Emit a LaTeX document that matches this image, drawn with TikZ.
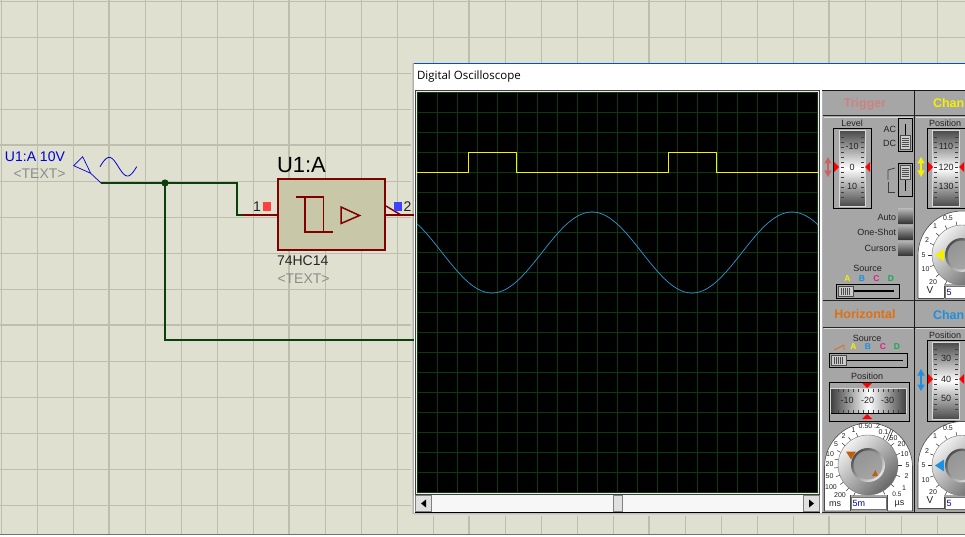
\documentclass[tikz,border=0pt]{standalone}
\usepackage{fontspec}
\setmainfont{Liberation Sans}
\newfontfamily\titlefont{Open Sans}
\definecolor{sheet}{HTML}{DFE0CF}
\definecolor{gridc}{HTML}{BDBEAE}
\definecolor{wirec}{HTML}{0B3F0B}
\definecolor{pinc}{HTML}{800000}
\definecolor{chipc}{HTML}{C8C8A9}
\definecolor{panelc}{HTML}{A6A6A6}
\definecolor{scopegrid}{HTML}{0C3A0C}
\definecolor{traceY}{HTML}{F5F000}
\definecolor{traceB}{HTML}{2A9BD8}
\definecolor{orangec}{HTML}{E07010}
\definecolor{lA}{HTML}{F5F000}
\definecolor{lB}{HTML}{1E90E0}
\definecolor{lC}{HTML}{E0208A}
\definecolor{lD}{HTML}{18A850}
\definecolor{txtc}{HTML}{222222}
\newcounter{lb}
\tikzset{
  lab/.style={inner sep=0pt,outer sep=0pt,text=txtc},
  wirel/.style={draw=wirec,line width=1.6pt},
  pinl/.style={draw=pinc,line width=1.4pt},
  blackbox/.style={draw=black,line width=0.9pt},
  trace/.style={line width=1pt,line join=miter}
}
% \lbl[opts]{x}{y}{size}{text}
\newcommand\lbl[5][]{\stepcounter{lb}\node[lab,#1] (lb\thelb) at (#2,#3) {\fontsize{#4}{#4}\selectfont #5};}
\newcommand\vdrum[6]{% x0,x1 outer; y0,y1; inner x0, inner x1
  \fill[panelc] (#1,#3) rectangle (#2,#4);
  \draw[blackbox] (#1,#3) rectangle (#2,#4);
  \shade[top color=black!70,bottom color=black!70,middle color=white] (#5,#3+2.5) rectangle (#6,#4-2.5);
  \draw[white!85!black,line width=0.7pt] (#5-0.5,#3+2) rectangle (#6+0.5,#4-2);
}
\newcommand\vticks[4]{% x0,x1,ymid,_
  \foreach \d in {-30,-25,...,30}{
    \draw[black!75,line width=0.5pt] (#1+1,#3+\d) -- (#1+4,#3+\d);
    \draw[black!75,line width=0.5pt] (#2-1,#3+\d) -- (#2-4,#3+\d);
  }
}
\newcommand\redtri[3]{\fill[red] (#1,#2-5) -- (#1,#2+5) -- (#1+#3,#2) -- cycle;}
\newcommand\dblarrow[4]{% x,y0,y1,color
  \fill[#4] (#1,#2) -- (#1-3.7,#2+6.5) -- (#1+3.7,#2+6.5) -- cycle;
  \fill[#4] (#1,#3) -- (#1-3.7,#3-6.5) -- (#1+3.7,#3-6.5) -- cycle;
  \draw[#4,line width=1.2pt] (#1,#2+5) -- (#1,#3-5);
}
\newcommand\thumbh[3]{% x0,x1,ymid
  \fill[black!20] (#1,#3-5) rectangle (#2,#3+5);
  \draw[black!70,line width=0.5pt] (#1,#3-5) rectangle (#2,#3+5);
  \foreach \t in {2,4,...,10}{\draw[black!70,line width=0.5pt] (#1+1+\t,#3-3.5) -- (#1+1+\t,#3+3.5);}
}
\newcommand\thumbv[3]{% xmid,y0,y1
  \fill[black!20] (#1-5,#2) rectangle (#1+5,#3);
  \draw[black!70,line width=0.5pt] (#1-5,#2) rectangle (#1+5,#3);
  \foreach \t in {2,4,...,10}{\draw[black!70,line width=0.5pt] (#1-3.5,#2+1.5+\t) -- (#1+3.5,#2+1.5+\t);}
}
\newcommand\hslider[5]{% x0,x1,y0,y1,thumb x0
  \pgfmathsetmacro{\slmid}{(#3+#4)/2}
  \pgfmathsetmacro{\slend}{#5+15}
  \draw[blackbox] (#1,#3) rectangle (#2,#4);
  \draw[black,line width=1.6pt] (#1+3,\slmid) -- (#2-5,\slmid);
  \thumbh{#5}{\slend}{\slmid}
}
\newcommand\mknob[2]{% cx,cy metal body
  \shade[shading=axis,left color=black!5,right color=black!60,shading angle=45] (#1,#2) circle[radius=30];
  \draw[black!55,line width=0.4pt] (#1,#2) circle[radius=30];
  \shade[shading=axis,left color=black!70,right color=black!8,shading angle=45] (#1,#2) circle[radius=17];
  \shade[shading=axis,left color=black!42,middle color=white,right color=black!35,shading angle=30] (#1,#2) circle[radius=14.5];
}
\newcommand\chandial[4]{% cy, arrow colour, top panel y not used, textbox y0
  \fill[white] (918,#1+43) -- plot[domain=180:0,samples=30] ({962+44*cos(\x)},{#1-44*sin(\x)}) -- (966,#1+43) -- cycle;
  \draw[black!70,line width=0.6pt] (918,#1+43) -- plot[domain=180:0,samples=30] ({962+44*cos(\x)},{#1-44*sin(\x)});
  \draw[black!70,line width=0.6pt] (918,#1+43) -- (944,#1+43);
  \fill[panelc] (944,#1+29) rectangle (966,#1+44);
  \draw[black!70,line width=0.6pt] (944,#1+43) -- (944,#1+31);
  \foreach \a in {100,120,...,240}{
    \draw[black!80,line width=0.5pt] ({962+30*cos(\a)},{#1-30*sin(\a)}) -- ({962+34*cos(\a)},{#1-34*sin(\a)});
  }
  \mknob{962}{#1}
  \fill[#2] (935,#1) -- (944,#1-6) -- (944,#1+6) -- cycle;
  \lbl{948}{#1-37}{7}{0.5}
  \lbl{935}{#1-29}{7}{1}
  \lbl{927}{#1-14.5}{7}{2}
  \lbl{923.5}{#1}{7}{5}
  \lbl{925.5}{#1+14.5}{7}{10}
  \lbl{933}{#1+27}{7}{20}
  \lbl{930}{#1+35}{10}{V}
  \fill[white] (945.5,#4) rectangle (966,#4+12);
  \draw[black!55,line width=0.5pt] (945.5,#4) rectangle (966,#4+12);
  \lbl[text=blue!70!black]{949}{#4+6}{9}{5}
}
\begin{document}
\begin{tikzpicture}[x=1pt,y=-1pt]
\useasboundingbox (0,0) rectangle (965,537);
\clip (0,0) rectangle (965,537);
% sheet
\fill[sheet] (0,0) rectangle (965,537);
\foreach \k in {0,...,26}{
  \pgfmathsetmacro{\px}{36*\k+1}
  \draw[gridc,line width=0.9pt] (\px,0) -- (\px,534);
}
\foreach \k in {0,...,14}{
  \pgfmathsetmacro{\py}{36*\k+1}
  \draw[gridc,line width=0.9pt] (0,\py) -- (965,\py);
}
\foreach \k in {108,288,468,648,828}{\draw[gridc,line width=1.8pt] (\k+0.5,0) -- (\k+0.5,534);}
\foreach \k in {145,325}{\draw[gridc,line width=1.6pt] (0,\k) -- (965,\k);}
\fill[white] (0,534) rectangle (965,537);
\draw[black!55,line width=0.8pt] (0,534) -- (965,534);
% window shadow
\shade[left color=sheet,right color=black!40] (411,64) rectangle (414,513);
\shade[top color=black!25,bottom color=sheet] (414,513) rectangle (965,515);
% circuit
\coordinate (gen) at (101,183);
\coordinate (junc) at (165,183);
\coordinate (bend1) at (237,183);
\coordinate (bend2) at (237,215);
\coordinate (pinstart) at (243,215);
\coordinate (scopein) at (415,340);
\coordinate (corner) at (165,340);
\coordinate (out) at (415,215);
\node[draw=pinc,line width=1.6pt,fill=chipc,minimum width=107pt,minimum height=71pt,inner sep=0pt,outer sep=0pt] (chip) at (331.7,214.5) {};
\draw[pinl] (pinstart) -- (chip.west |- pinstart);
\draw[pinl] (chip.east |- out) -- (out);
\draw[pinl] (386,206) -- (401,215);
\draw[wirel] (gen) -- (bend1) -- (bend2) -- (pinstart);
\draw[wirel] (junc) -- (corner) -- (scopein);
\fill[wirec] (junc) circle[radius=3.6];
\fill[red!75!white] (263,202) rectangle (271,211);
\fill[blue!75!white] (394,202) rectangle (402,211);
\lbl{257}{207}{14}{1}
\lbl{407.5}{207}{14}{2}
\lbl[anchor=west,text=black]{277}{165.5}{22}{U1:A}
\lbl[anchor=west,text=black!85]{277}{261}{14}{74HC14}
\lbl[anchor=west,text=black!45]{277.5}{278.5}{14}{<TEXT>}
\lbl[anchor=west,text=blue!85!black]{5}{157}{14}{U1:A 10V}
\lbl[anchor=west,text=black!45]{13.5}{173.5}{14}{<TEXT>}
\draw[blue!85!black,line width=0.7pt] (101,183) -- (90.7,173.3) -- (73.7,165.7) -- (82.7,156.7) -- (90.7,173.3);
\draw[blue!85!black,line width=0.8pt] plot[domain=0:1,samples=40] ({100+36.7*\x},{166.7-9.3*sin(360*\x)});
\draw[pinc,line width=1.5pt] (296,197) -- (323.5,197) -- (323.5,232) -- (333,232);
\draw[pinc,line width=1.5pt] (305,197) -- (305,232) -- (323.5,232);
\draw[pinc,line width=1.5pt] (341,207) -- (359.5,215.5) -- (341,223.5) -- cycle;
% window
\fill[white] (414,63) rectangle (965,513);
\draw[blue!60!cyan!80!black,line width=0.9pt] (414,63.5) -- (965,63.5);
\lbl[anchor=west,text=black]{417}{76.5}{11.5}{\titlefont Digital Oscilloscope}
\fill[black!75] (415,90) rectangle (820,494.5);
\fill[black!8] (416,91) rectangle (819,493.5);
\fill[black] (417,92) rectangle (818,493);
\foreach \k in {0,...,20}{
  \pgfmathsetmacro{\gx}{417.5+20*\k}
  \draw[scopegrid,line width=0.9pt] (\gx,92) -- (\gx,493);
  \pgfmathsetmacro{\gy}{92.5+20*\k}
  \draw[scopegrid,line width=0.9pt] (417,\gy) -- (818,\gy);
}
\coordinate (y0) at (417,172.5);
\draw[trace,traceY] (y0) -- (468.5,172.5) -- (468.5,152.5) -- (516.5,152.5) -- (516.5,172.5) -- (668.5,172.5) -- (668.5,152.5) -- (716.5,152.5) -- (716.5,172.5) -- (818,172.5);
\draw[traceB,line width=0.7pt] plot[domain=417:818,samples=160,smooth] (\x,{252.5-40.5*cos((\x-592)*1.8)});
% scrollbar
\fill[black!3] (415,495) rectangle (819,512);
\draw[black,line width=1pt] (414.5,512.5) -- (820,512.5);
\foreach \a/\b in {415/431,613/622,803/819}{
  \fill[black!12] (\a,495) rectangle (\b,511.5);
  \draw[black!50,line width=0.4pt] (\a,495) rectangle (\b,511.5);
}
\fill[black] (426,499.5) -- (426,507.5) -- (421,503.5) -- cycle;
\fill[black] (809,499.5) -- (809,507.5) -- (814,503.5) -- cycle;
% panels
\fill[panelc] (822,90) rectangle (965,512.5);
\draw[black!90,line width=0.8pt] (822,90.5) -- (965,90.5);
\draw[black!90,line width=1pt] (914.5,90) -- (914.5,512.5);
\draw[black!85,line width=0.9pt] (822,115.7) -- (965,115.7);
\draw[black!85,line width=0.9pt] (822,300.5) -- (965,300.5);
\draw[black!85,line width=0.9pt] (822,327) -- (965,327);
\draw[black!85,line width=0.9pt] (822,512.5) -- (965,512.5);
\draw[black!30,line width=0.6pt] (822.5,91) -- (822.5,512);
\draw[white!85!black,line width=0.5pt] (824,117) -- (913,117);
\draw[white!85!black,line width=0.5pt] (916,117) -- (965,117);
\draw[white!85!black,line width=0.5pt] (824,328) -- (913,328);
\draw[white!85!black,line width=0.5pt] (916,328) -- (965,328);
% titles
\lbl[text=red!35!panelc!85!white]{865}{104}{12.5}{\bfseries Trigger}
\lbl[anchor=west,text=lA]{933}{103.5}{12.5}{\bfseries Chann}
\lbl[text=orangec]{865}{314.5}{12.5}{\bfseries Horizontal}
\lbl[anchor=west,text=lB]{933}{315.5}{12.5}{\bfseries Chann}
% trigger panel
\lbl{852}{123}{9}{Level}
\vdrum{833}{871.5}{128.5}{208}{839.5}{865}
\vticks{839.5}{865}{167}{}
\lbl{852}{146.5}{9}{-10}
\lbl{852}{167}{9}{0}
\lbl{852}{186.5}{9}{10}
\redtri{834}{167}{5}
\redtri{870}{167}{-5}
\dblarrow{828}{157}{177}{red!40!panelc}
\lbl[anchor=east]{896}{129}{9}{AC}
\lbl[anchor=east]{896}{143}{9}{DC}
\draw[blackbox] (898.5,118.5) rectangle (912.5,151);
\draw[black,line width=1.6pt] (905.5,124) -- (905.5,135);
\thumbv{905.5}{135}{149.5}
\draw[blackbox] (898.5,163.5) rectangle (912.5,196);
\draw[black,line width=1.6pt] (905.5,180) -- (905.5,191);
\thumbv{905.5}{165}{179.5}
\draw[black!75,line width=0.8pt] (888,180) -- (888,170) -- (895,168);
\draw[black!75,line width=0.8pt] (888,182) -- (888,192) -- (895,192);
\lbl[anchor=east]{896}{217}{9}{Auto}
\lbl[anchor=east]{896}{232}{9}{One-Shot}
\lbl[anchor=east]{896}{248}{9}{Cursors}
\foreach \v in {209,225,241}{
  \shade[top color=black!30,bottom color=black!80] (898,\v) rectangle (913,\v+14.5);
}
\lbl{867.5}{268}{9}{Source}
\lbl[text=lA]{847.5}{279}{8.5}{\bfseries A}
\lbl[text=lB]{862}{279}{8.5}{\bfseries B}
\lbl[text=lC]{876.5}{279}{8.5}{\bfseries C}
\lbl[text=lD]{891}{279}{8.5}{\bfseries D}
\hslider{836.5}{899}{284.5}{298}{838}
% channel A
\lbl{945}{123}{9}{Position}
\vdrum{927}{970}{128.5}{208}{933}{959}
\vticks{933}{959}{167}{}
\lbl{946}{146.5}{9}{110}
\lbl{946}{167}{9}{120}
\lbl{946}{186.5}{9}{130}
\redtri{928}{167}{5}
\redtri{964}{167}{-5}
\dblarrow{921}{157}{177}{lA}
\chandial{255}{lA}{0}{286}
% horizontal
\lbl{867}{338}{9}{Source}
\draw[orangec,line width=0.9pt] (834,350) -- (844,345) -- (844,350);
\lbl[text=lA]{853.5}{347}{8.5}{\bfseries A}
\lbl[text=lB]{868}{347}{8.5}{\bfseries B}
\lbl[text=lC]{883}{347}{8.5}{\bfseries C}
\lbl[text=lD]{897}{347}{8.5}{\bfseries D}
\hslider{829.5}{907.5}{353.5}{367.5}{831}
\lbl{867}{376}{9}{Position}
\draw[blackbox] (829,382) rectangle (909,421);
\shade[left color=black!75,right color=black!75,middle color=white] (831,389) rectangle (906,413);
\draw[white!85!black,line width=0.7pt] (830.5,388) rectangle (906.5,413.5);
\draw[black,line width=0.7pt] (831,413.5) -- (906,413.5);
\foreach \d in {-30,-25,...,30}{
  \draw[black!75,line width=0.5pt] (868+\d,389) -- (868+\d,392);
  \draw[black!75,line width=0.5pt] (868+\d,410) -- (868+\d,413);
}
\lbl{847}{400.5}{9}{-10}
\lbl{867.5}{400.5}{9}{-20}
\lbl{887.5}{400.5}{9}{-30}
\fill[red] (862,383) -- (872,383) -- (867,388) -- cycle;
\fill[red] (862,419) -- (872,419) -- (867,414) -- cycle;
\fill[white] (824.5,511) -- plot[domain=180:0,samples=40] ({868.5+44*cos(\x)},{467-44*sin(\x)}) -- (912.5,511) -- cycle;
\draw[black!70,line width=0.6pt] (824.5,511) -- plot[domain=180:0,samples=40] ({868.5+44*cos(\x)},{467-44*sin(\x)}) -- (912.5,511) -- cycle;
\fill[panelc] (850,495) rectangle (887.5,511.5);
\draw[black!70,line width=0.6pt] (850,495) -- (850,511);
\draw[black!70,line width=0.6pt] (887.5,495) -- (887.5,511);
\draw[black!70,line width=0.7pt] (886.5,440) -- (891,429);
\draw[black!70,line width=0.7pt] (888.5,441) -- (893,430);
\foreach \a in {-60,-40,...,60,110,125,...,245}{
  \draw[black!80,line width=0.5pt] ({868+30*cos(\a)},{465-30*sin(\a)}) -- ({868+34*cos(\a)},{465-34*sin(\a)});
}
\mknob{868}{465}
\fill[orangec!85!black] (846,451.5) -- (856,451.5) -- (851,459.5) -- cycle;
\fill[orangec!85!black] (878,476) -- (872,476) -- (875.5,470) -- cycle;
\lbl{840}{495}{7}{200}
\lbl{831}{487}{7}{100}
\lbl{829.5}{476.5}{7}{50}
\lbl{829.5}{464.5}{7}{20}
\lbl{830}{454.5}{7}{10}
\lbl{836}{444.5}{7}{5}
\lbl{843.5}{436}{7}{2}
\lbl{853.5}{430}{7}{1}
\lbl{865.5}{426.5}{7}{0.50}
\lbl{877}{426}{7}{.2}
\lbl{883.5}{432}{7}{0.1}
\lbl{893.5}{438.5}{7}{50}
\lbl{901.5}{444.5}{7}{20}
\lbl{904.5}{454.5}{7}{10}
\lbl{907.5}{465.5}{7}{5}
\lbl{906.5}{476}{7}{2}
\lbl{904}{488}{7}{1}
\lbl{897}{494}{6.5}{0.5}
\lbl{835}{504}{9}{ms}
\lbl{899.5}{504.5}{9}{µs}
\fill[white] (851,497) rectangle (886,509);
\draw[black!55,line width=0.5pt] (851,497) rectangle (886,509);
\lbl[anchor=west,text=blue!70!black]{852.5}{503}{9}{5m}
% channel B
\lbl{945}{335}{9}{Position}
\vdrum{927}{970}{340.5}{421}{933}{959}
\vticks{933}{959}{379}{}
\lbl{946}{358.5}{9}{30}
\lbl{946}{379}{9}{40}
\lbl{946}{398.5}{9}{50}
\redtri{928}{379}{5}
\redtri{964}{379}{-5}
\dblarrow{921}{369}{391}{lB}
\chandial{465.5}{lB}{0}{497}
\end{tikzpicture}
\end{document}
